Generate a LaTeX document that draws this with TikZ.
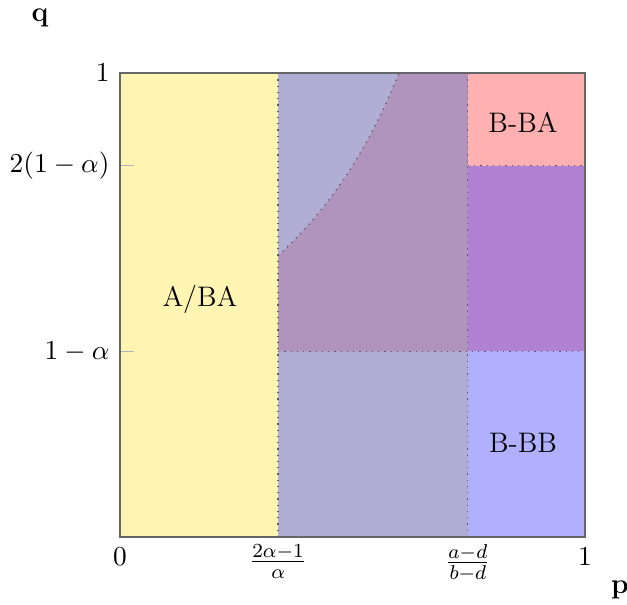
\documentclass[tikz,border=0pt]{standalone}
\usepackage{amsmath}
\definecolor{cyellow}{RGB}{255,245,178}
\definecolor{cgrey}{RGB}{176,174,212}
\definecolor{cmauve}{RGB}{176,148,188}
\definecolor{cpink}{RGB}{255,176,176}
\definecolor{cpurple}{RGB}{176,128,212}
\definecolor{clblue}{RGB}{176,176,255}
\definecolor{cline}{RGB}{90,90,100}
\begin{document}
\begin{tikzpicture}[x=186pt,y=185.6pt,
  border/.style={dotted, cline, line width=0.5pt},
  lbl/.style={font=\fontsize{11.3}{13.6}\selectfont},
  tick/.style={draw=gray!60, line width=0.4pt}]
\useasboundingbox (-0.258,-0.1444) rectangle (1.0903,1.1573);
% regions
\fill[cyellow] (0,0) rectangle (0.34,1);
\fill[cgrey] (0.34,0) rectangle (0.748,1);
\fill[cmauve] (0.34,0.4) -- (0.748,0.4) -- (0.748,1) -- (0.6,1)
  -- plot[domain=0.6:0.34, samples=40] (\x,{0.4/(1-\x)}) -- cycle;
\fill[cpink] (0.748,0.8) rectangle (1,1);
\fill[cpurple] (0.748,0.4) rectangle (1,0.8);
\fill[clblue] (0.748,0) rectangle (1,0.4);
% boundaries
\draw[border] (0.34,0) -- (0.34,1);
\draw[border] (0.748,0) -- (0.748,1);
\draw[border] (0.34,0.4) -- (1,0.4);
\draw[border] (0.748,0.8) -- (1,0.8);
\draw[border] plot[domain=0.34:0.6, samples=40] (\x,{0.4/(1-\x)});
% ticks
\draw[tick] (0,0.8) -- (0.03,0.8);
\draw[tick] (0,0.4) -- (0.03,0.4);
% frame
\draw[gray!80!black, line width=0.5pt] (0,0) rectangle (1,1);
% tick labels
\node[lbl, left, inner sep=4pt] (y1) at (0,1) {$1$};
\node[lbl, left, inner sep=4pt] (y08) at (0,0.8) {$2(1-\alpha)$};
\node[lbl, left, inner sep=4pt] (y04) at (0,0.4) {$1-\alpha$};
\node[lbl, below, inner sep=4pt] (x0) at (0,0) {$0$};
\node[lbl, below, inner sep=3pt] (x1) at (0.34,0) {$\frac{2\alpha-1}{\alpha}$};
\node[lbl, below, inner sep=3pt] (x2) at (0.748,0) {$\frac{a-d}{b-d}$};
\node[lbl, below, inner sep=4pt] (x3) at (1,0) {$1$};
% axis labels
\node[lbl] (q) at (-0.172,1.1185) {\textbf{q}};
\node[lbl] (p) at (1.0753,-0.1142) {\textbf{p}};
% region labels
\node[lbl] (aba) at (0.172,0.511) {A/BA};
\node[lbl] (bba) at (0.8667,0.894) {B-BA};
\node[lbl] (bbb) at (0.8667,0.2026) {B-BB};
\end{tikzpicture}
\end{document}
